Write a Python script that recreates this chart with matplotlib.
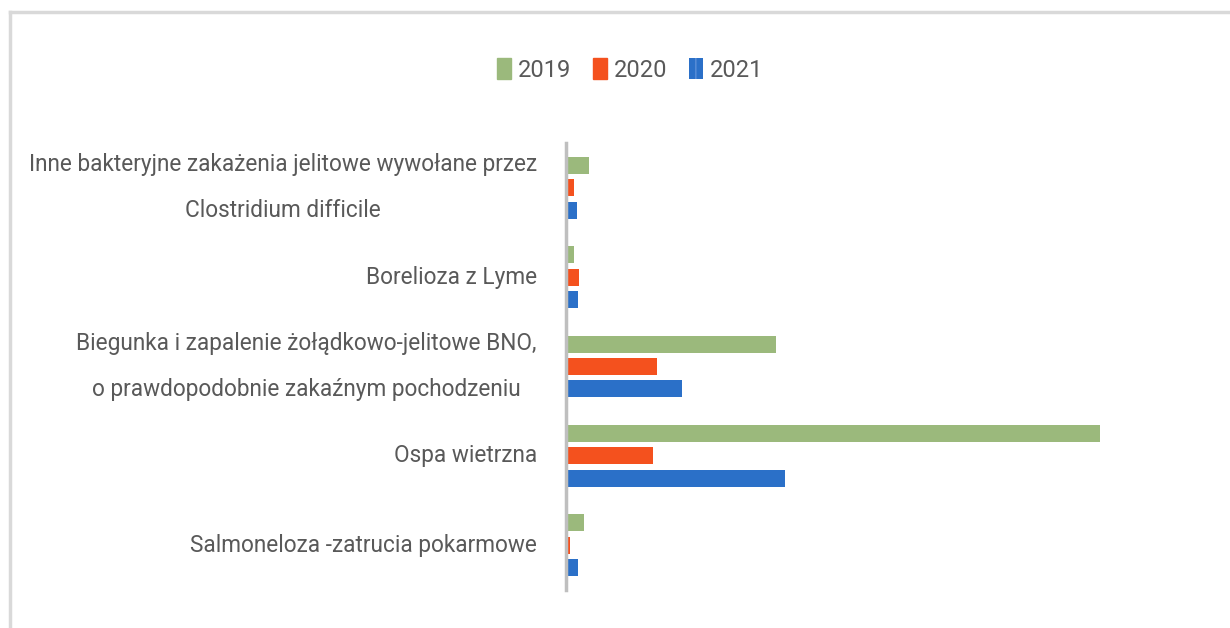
import numpy as np
import matplotlib.pyplot as plt
from matplotlib.lines import Line2D
from matplotlib.patches import Patch

# kategorie (od gory do dolu)
kategorie = [
    "Inne bakteryjne zakażenia jelitowe wywołane przez\nClostridium difficile",
    "Borelioza z Lyme",
    "Biegunka i zapalenie żołądkowo-jelitowe BNO,\no prawdopodobnie zakaźnym pochodzeniu",
    "Ospa wietrzna",
    "Salmoneloza -zatrucia pokarmowe",
]
lata = ["2019", "2020", "2021"]
w2019 = [23, 8, 210, 534, 18]
w2020 = [8, 13, 91, 87, 4]
w2021 = [11, 12, 116, 219, 12]
kolory = ["#9bb97c", "#f4511e", "#2b70c8"]

plt.rcParams['font.family'] = ['Roboto', 'DejaVu Sans']

fig = plt.figure(figsize=(12.3, 6.28), dpi=100)
ax = fig.add_axes([566/1230, 1-590/628, 624/1230, 447/628])

y = np.arange(len(kategorie))
h = 0.19
krok = 0.25
for i, (wart, kol) in enumerate(zip([w2019, w2020, w2021], kolory)):
    ax.barh(y - krok + i*krok, wart, height=h, color=kol, label=lata[i])

ax.set_ylim(len(kategorie) - 0.5, -0.5)
ax.set_xlim(0, 624)
ax.set_yticks(y)
ax.set_yticklabels(kategorie, fontsize=16.3, color="#595959",
                   multialignment="center", linespacing=2.25, va="center")
ax.tick_params(axis="y", length=0, pad=21)
ax.set_xticks([])
for s in ["top", "right", "bottom"]:
    ax.spines[s].set_visible(False)
ax.spines["left"].set_color("#bfbfbf")
ax.spines["left"].set_linewidth(2.5)

# legenda
uchwyty = [Patch(color=kolory[0]), Patch(color=kolory[1]),
           Patch(facecolor=kolory[2], hatch="||", edgecolor="#5b8fd8", lw=0)]
fig.legend(uchwyty, lata, loc="center", bbox_to_anchor=(630/1230, 1-70/628),
           ncol=3, frameon=False, fontsize=17, handlelength=0.6, handleheight=1.0,
           handletextpad=0.3, columnspacing=0.9, labelcolor="#595959")

# ramka
fig.add_artist(Line2D([10/1230, 1], [1-12/628, 1-12/628], color="#d9d9d9", lw=2.5))
fig.add_artist(Line2D([10/1230, 10/1230], [0, 1-12/628], color="#d9d9d9", lw=2.5))

fig.savefig("out.png", dpi=100)
